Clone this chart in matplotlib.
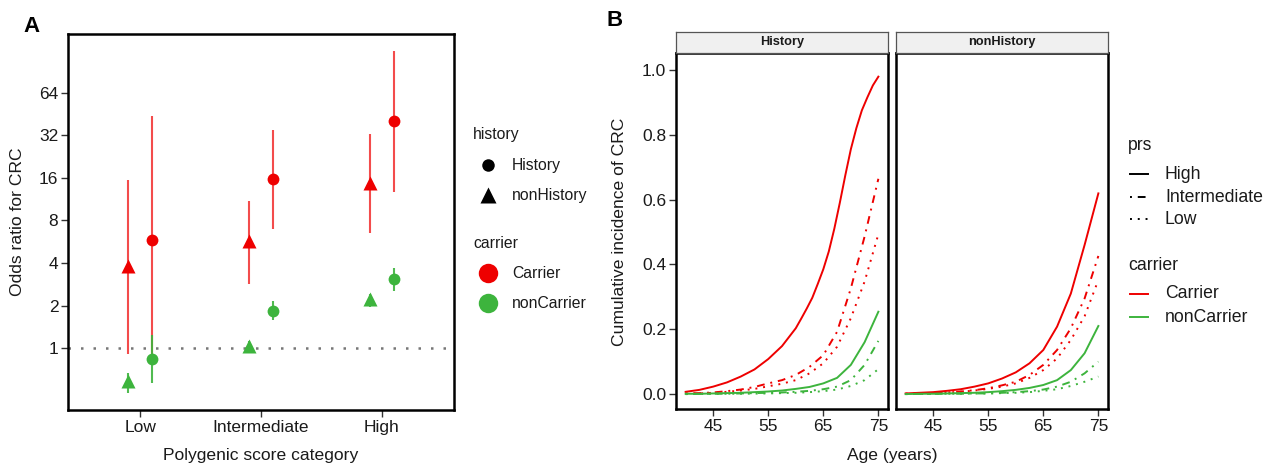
import matplotlib
matplotlib.use("Agg")
import matplotlib.pyplot as plt
from matplotlib.lines import Line2D
from matplotlib.ticker import NullLocator

plt.rcParams['font.family'] = ['Liberation Sans', 'DejaVu Sans']

# ---- panel A data: odds ratios by polygenic score category ----
categories = ["Low", "Intermediate", "High"]

hist_car_or = [5.8, 15.6, 40.0]
hist_car_lo = [0.9, 6.9, 12.7]
hist_car_hi = [44.0, 35.0, 126.0]

hist_non_or = [0.84, 1.83, 3.07]
hist_non_lo = [0.57, 1.57, 2.55]
hist_non_hi = [1.24, 2.14, 3.7]

nohist_car_or = [3.8, 5.7, 14.8]
nohist_car_lo = [0.91, 2.83, 6.5]
nohist_car_hi = [15.5, 11.0, 32.8]

nohist_non_or = [0.59, 1.04, 2.22]
nohist_non_lo = [0.48, 0.95, 1.97]
nohist_non_hi = [0.67, 1.12, 2.42]

# ---- panel B data: cumulative incidence by age ----
ages = [40, 42.5, 45, 47.5, 50, 52.5, 55, 57.5, 60, 62.5, 65, 67.5, 70, 72.5, 75]
# finer age grid for the steep carrier/High/History curve
ages_fine = [40, 42.5, 45, 47.5, 50, 52.5, 55, 57.5, 60, 61, 62, 63, 64, 65, 66, 67, 68,
             69, 70, 71, 72, 73, 74, 75]

# History facet
h_car_high = [0.007, 0.013, 0.023, 0.036, 0.054, 0.076, 0.108, 0.148, 0.203, 0.233, 0.264,
              0.297, 0.34, 0.385, 0.44, 0.51, 0.59, 0.675, 0.755, 0.82, 0.875, 0.915, 0.952, 0.979]
h_car_int = [0.002, 0.003, 0.005, 0.009, 0.014, 0.022, 0.033, 0.043, 0.059, 0.084, 0.12, 0.192, 0.326, 0.486, 0.664]
h_car_low = [0.001, 0.002, 0.004, 0.007, 0.011, 0.016, 0.024, 0.032, 0.043, 0.064, 0.095, 0.146, 0.234, 0.347, 0.493]
h_non_high = [0.001, 0.001, 0.002, 0.003, 0.004, 0.006, 0.008, 0.011, 0.016, 0.022, 0.033, 0.05, 0.09, 0.16, 0.254]
h_non_int = [0.0, 0.0005, 0.001, 0.001, 0.002, 0.003, 0.004, 0.005, 0.007, 0.01, 0.015, 0.023, 0.043, 0.09, 0.164]
h_non_low = [0.0, 0.0003, 0.0005, 0.001, 0.001, 0.0015, 0.002, 0.003, 0.004, 0.006, 0.009, 0.014, 0.025, 0.043, 0.077]

# nonHistory facet
n_car_high = [0.002, 0.004, 0.006, 0.01, 0.015, 0.023, 0.033, 0.048, 0.067, 0.095, 0.136, 0.208, 0.31, 0.46, 0.619]
n_car_int = [0.001, 0.002, 0.003, 0.005, 0.008, 0.012, 0.018, 0.027, 0.038, 0.059, 0.09, 0.136, 0.203, 0.295, 0.426]
n_car_low = [0.001, 0.002, 0.003, 0.005, 0.007, 0.011, 0.016, 0.023, 0.033, 0.05, 0.074, 0.11, 0.167, 0.24, 0.352]
n_non_high = [0.0, 0.001, 0.001, 0.002, 0.003, 0.004, 0.006, 0.009, 0.013, 0.019, 0.028, 0.043, 0.074, 0.126, 0.21]
n_non_int = [0.0, 0.0003, 0.0005, 0.001, 0.001, 0.002, 0.002, 0.004, 0.006, 0.009, 0.014, 0.023, 0.038, 0.064, 0.1]
n_non_low = [0.0, 0.0003, 0.0005, 0.001, 0.001, 0.0015, 0.002, 0.003, 0.004, 0.006, 0.01, 0.015, 0.025, 0.038, 0.054]

RED = "#EE0000"
GREEN = "#3DB43D"
TXT = "#1a1a1a"
W, H = 1266, 465

dotdash = (0, (1, 3, 4, 3))
dotted = (0, (1, 3))


def fx(px):
    return px / W


def fy(py):
    return 1 - py / H


fig = plt.figure(figsize=(W / 100, H / 100), dpi=100)


def style_axes(ax):
    for s in ax.spines.values():
        s.set_linewidth(1.8)
        s.set_color("black")
    ax.tick_params(direction="out", length=5, width=1, color="#333333",
                   labelsize=12.5, labelcolor=TXT, pad=2)


# ================= Panel A =================
axA = fig.add_axes([fx(68), fy(410), 386 / W, 376 / H])
xs = [1, 2, 3]
x_tri = [x - 0.1 for x in xs]
x_cir = [x + 0.1 for x in xs]

axA.axhline(1, color="#777777", lw=1.8, ls=(0, (1, 4)), zorder=1)

axA.vlines(x_tri, nohist_car_lo, nohist_car_hi, color=RED, lw=1.5, alpha=0.7, zorder=2)
axA.vlines(x_cir, hist_car_lo, hist_car_hi, color=RED, lw=1.5, alpha=0.7, zorder=2)
axA.plot(x_tri, nohist_car_or, "^", color=RED, ms=10, mec="none", zorder=3)
axA.plot(x_cir, hist_car_or, "o", color=RED, ms=8.5, mec="none", zorder=3)

axA.vlines(x_tri, nohist_non_lo, nohist_non_hi, color=GREEN, lw=1.5, alpha=0.9, zorder=4)
axA.vlines(x_cir, hist_non_lo, hist_non_hi, color=GREEN, lw=1.5, alpha=0.9, zorder=4)
axA.plot(x_tri, nohist_non_or, "^", color=GREEN, ms=10, mec="none", zorder=5)
axA.plot(x_cir, hist_non_or, "o", color=GREEN, ms=8.5, mec="none", zorder=5)

axA.set_yscale("log", base=2)
axA.set_yticks([1, 2, 4, 8, 16, 32, 64])
axA.set_yticklabels(["1", "2", "4", "8", "16", "32", "64"])
axA.yaxis.set_minor_locator(NullLocator())
axA.set_ylim(0.366, 166)
axA.set_xlim(0.4, 3.6)
axA.set_xticks(xs)
axA.set_xticklabels(categories)
style_axes(axA)

fig.text(fx(18), fy(222), "Odds ratio for CRC", rotation=90, ha="center", va="center",
         fontsize=12.6, color=TXT)
fig.text(fx(261), fy(455), "Polygenic score category", ha="center", va="center",
         fontsize=12.6, color=TXT)
fig.text(fx(31), fy(26), "A", ha="center", va="center", fontsize=16, fontweight="bold")

# legend A
fig.text(fx(473), fy(135), "history", ha="left", va="center", fontsize=11.3, color=TXT)
fig.add_artist(Line2D([fx(488)], [fy(165)], marker="o", ms=9, color="black", mec="none"))
fig.add_artist(Line2D([fx(488)], [fy(195)], marker="^", ms=11, color="black", mec="none"))
fig.text(fx(512), fy(165), "History", ha="left", va="center", fontsize=11.3, color=TXT)
fig.text(fx(512), fy(195), "nonHistory", ha="left", va="center", fontsize=11.3, color=TXT)
fig.text(fx(473), fy(243), "carrier", ha="left", va="center", fontsize=11.3, color=TXT)
fig.add_artist(Line2D([fx(488)], [fy(273)], marker="o", ms=14, color=RED, mec="none"))
fig.add_artist(Line2D([fx(488)], [fy(303)], marker="o", ms=14, color=GREEN, mec="none"))
fig.text(fx(512), fy(273), "Carrier", ha="left", va="center", fontsize=11.3, color=TXT)
fig.text(fx(512), fy(303), "nonCarrier", ha="left", va="center", fontsize=11.3, color=TXT)

# ================= Panel B =================
facets = [
    ("History", 676,
     [(ages_fine, h_car_high), (ages, h_car_int), (ages, h_car_low)],
     [h_non_high, h_non_int, h_non_low]),
    ("nonHistory", 896,
     [(ages, n_car_high), (ages, n_car_int), (ages, n_car_low)],
     [n_non_high, n_non_int, n_non_low]),
]
styles = ["-", dotdash, dotted]

for i, (name, left, car, non) in enumerate(facets):
    ax = fig.add_axes([fx(left), fy(409), 212 / W, 356 / H])
    for (xa, vals), ls in zip(car, styles):
        ax.plot(xa, vals, color=RED, lw=1.4, ls=ls)
    for vals, ls in zip(non, styles):
        ax.plot(ages, vals, color=GREEN, lw=1.4, ls=ls)
    ax.set_xlim(38.25, 76.75)
    ax.set_ylim(-0.046, 1.052)
    ax.set_xticks([45, 55, 65, 75])
    ax.set_yticks([0, 0.2, 0.4, 0.6, 0.8, 1.0])
    ax.set_yticklabels(["0.0", "0.2", "0.4", "0.6", "0.8", "1.0"])
    style_axes(ax)
    if i > 0:
        ax.tick_params(axis="y", left=False, labelleft=False)
    strip = fig.add_axes([fx(left), fy(53), 212 / W, 21 / H])
    strip.set_facecolor("#F0F0F0")
    strip.set_xticks([])
    strip.set_yticks([])
    for s in strip.spines.values():
        s.set_color("#555555")
        s.set_linewidth(0.9)
    strip.text(0.5, 0.5, name, ha="center", va="center", fontsize=9.2,
               fontweight="bold", color=TXT, transform=strip.transAxes)

fig.text(fx(620), fy(232), "Cumulative incidence of CRC", rotation=90, ha="center",
         va="center", fontsize=12.6, color=TXT)
fig.text(fx(892), fy(455), "Age (years)", ha="center", va="center", fontsize=12.6, color=TXT)
fig.text(fx(615), fy(21), "B", ha="center", va="center", fontsize=16, fontweight="bold")

# legend B
fig.text(fx(1128), fy(146), "prs", ha="left", va="center", fontsize=12.7, color=TXT)
for yy, ls, lab in [(174, "-", "High"), (197, dotdash, "Intermediate"), (219, dotted, "Low")]:
    fig.add_artist(Line2D([fx(1130), fx(1148)], [fy(yy), fy(yy)], color="black", lw=1.4, ls=ls))
    fig.text(fx(1165), fy(yy), lab, ha="left", va="center", fontsize=12.7, color=TXT)
fig.text(fx(1128), fy(266), "carrier", ha="left", va="center", fontsize=12.7, color=TXT)
for yy, c, lab in [(294, RED, "Carrier"), (317, GREEN, "nonCarrier")]:
    fig.add_artist(Line2D([fx(1130), fx(1148)], [fy(yy), fy(yy)], color=c, lw=1.4))
    fig.text(fx(1165), fy(yy), lab, ha="left", va="center", fontsize=12.7, color=TXT)

fig.savefig("out.png", dpi=100)
